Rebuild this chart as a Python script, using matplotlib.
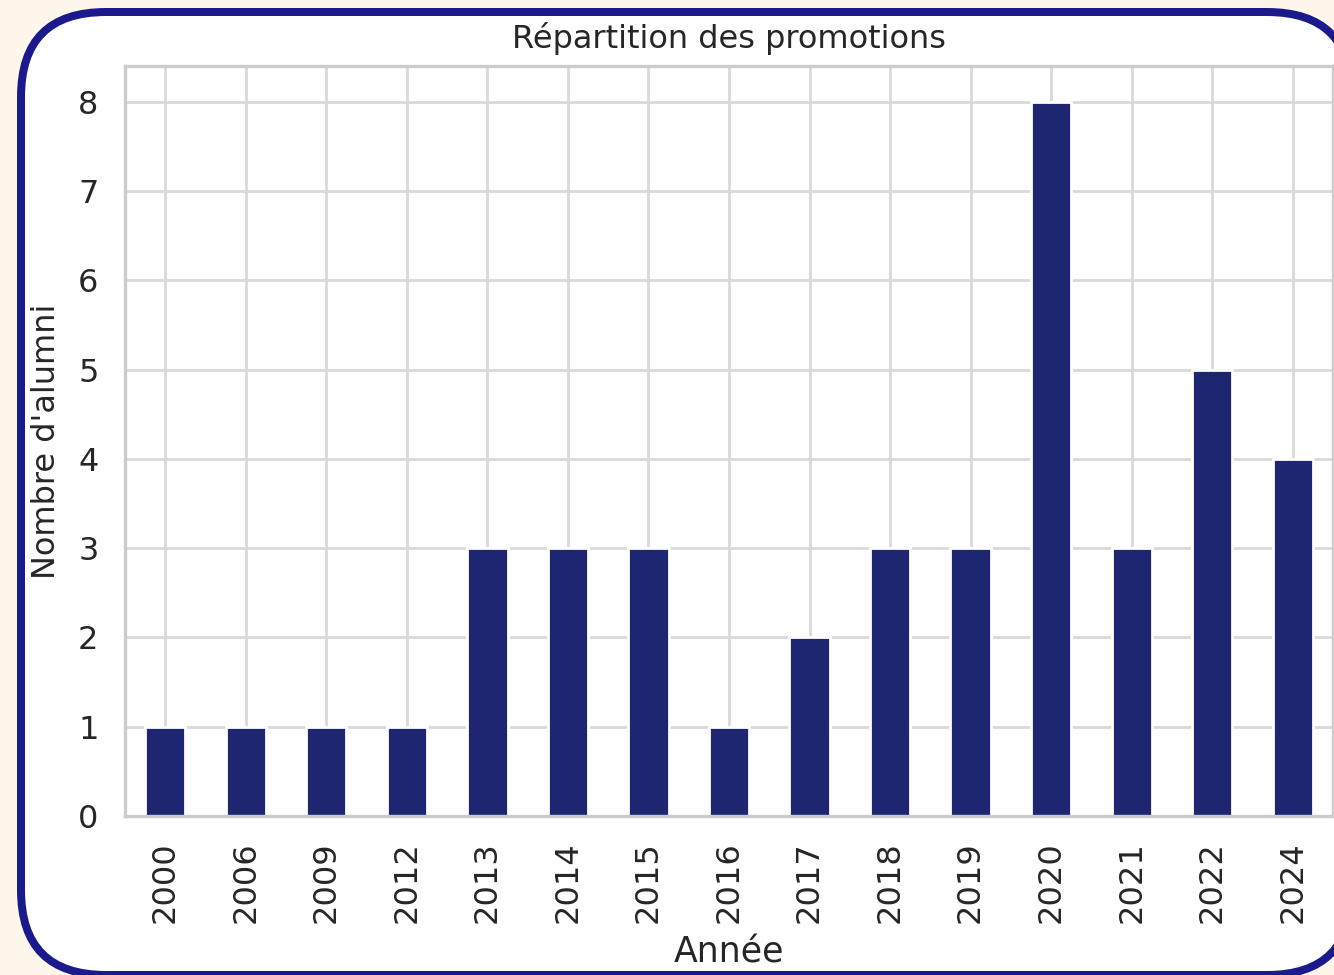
"""Répartition des promotions: bar chart of alumni per graduation year."""

import matplotlib

matplotlib.use("Agg")
import matplotlib.pyplot as plt
import seaborn as sns
from matplotlib.patches import FancyBboxPatch

years = ["2000", "2006", "2009", "2012", "2013", "2014", "2015", "2016",
         "2017", "2018", "2019", "2020", "2021", "2022", "2024"]
counts = [1, 1, 1, 1, 3, 3, 3, 1, 2, 3, 3, 8, 3, 5, 4]

BAR_COLOR = "#1e2672"
FRAME_COLOR = "#1a1a8c"
PAGE_BG = "#fdf6ea"
TEXT = "#262626"

sns.set_theme(style="whitegrid")
plt.rcParams["font.family"] = ["DejaVu Sans"]

DPI = 200
W, H = 1334, 975
fig = plt.figure(figsize=(W / DPI, H / DPI), dpi=DPI, facecolor=PAGE_BG)

# rounded card behind the chart (inch-based so corners stay round)
frame = FancyBboxPatch(
    (21 / DPI, 0 / DPI), (1352 - 21) / DPI, (963 - 0) / DPI,
    boxstyle=f"round,pad=0,rounding_size={85 / DPI}",
    transform=fig.dpi_scale_trans, facecolor="white",
    edgecolor=FRAME_COLOR, linewidth=8 / DPI * 72, zorder=-1,
    clip_on=False,
)
fig.patches.append(frame)

ax = fig.add_axes([125 / W, 1 - 816 / H, (1333 - 125) / W, (816 - 66) / H])
x = range(len(years))
ax.bar(x, counts, width=0.5, color=BAR_COLOR, zorder=2)
ax.set_xticks(list(x))
ax.set_xticklabels(years, rotation=90)
ax.set_xlim(-0.5, len(years) - 0.5)
ax.set_ylim(0, 8.4)
ax.grid(True, color="#d9d9d9", linewidth=1.0)
ax.set_axisbelow(True)
for s in ax.spines.values():
    s.set_color("#cccccc")
    s.set_linewidth(1.2)

ax.tick_params(axis="both", labelsize=11.5, labelcolor=TEXT)
ax.tick_params(axis="x", pad=3)
ax.tick_params(axis="y", pad=3.5)
ax.set_title("Répartition des promotions", fontsize=11.5, color=TEXT, pad=6.5)
ax.set_xlabel("Année", fontsize=12.5, color=TEXT, labelpad=4.5)
ax.set_ylabel("Nombre d'alumni", fontsize=11.5, color=TEXT)
ax.yaxis.set_label_coords(-0.052, 0.5)

fig.savefig("out.png", dpi=DPI, facecolor=PAGE_BG)
plt.close(fig)
